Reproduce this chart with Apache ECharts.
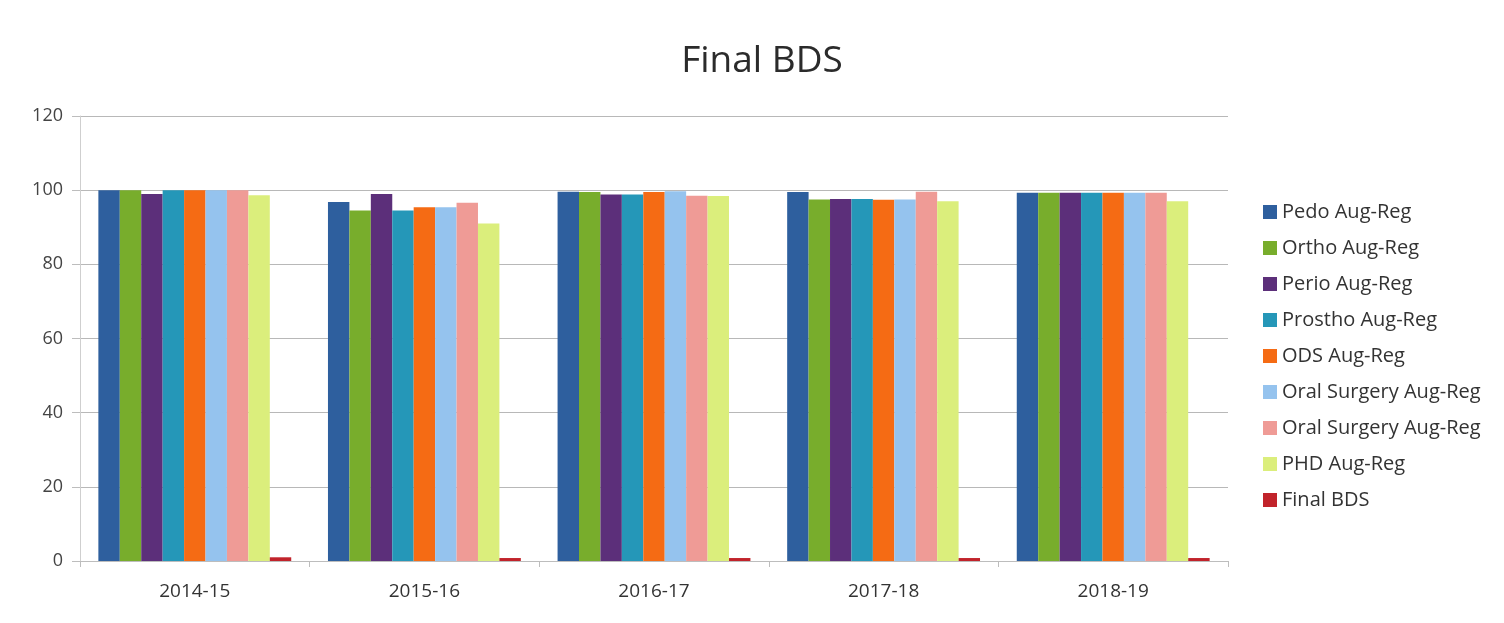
<!DOCTYPE html>
<html>
<head>
<meta charset="utf-8">
<script src="https://cdn.jsdelivr.net/npm/echarts@6/dist/echarts.min.js"></script>
<style>
    html, body { margin: 0; padding: 0; background: #fff; }
    #container { width: 1504px; height: 623px; }
</style>
</head>
<body>
<div id="container"></div>
<script>
var years = ['2014-15', '2015-16', '2016-17', '2017-18', '2018-19'];
var pedo = [100, 96.8, 99.6, 99.5, 99.3];
var ortho = [100, 94.5, 99.5, 97.5, 99.3];
var perio = [99, 99, 98.8, 97.6, 99.3];
var prostho = [100, 94.5, 98.8, 97.6, 99.3];
var ods = [100, 95.4, 99.5, 97.4, 99.3];
var oralSurgery = [100, 95.4, 99.7, 97.5, 99.3];
var oralSurgery2 = [100, 96.6, 98.5, 99.6, 99.3];
var phd = [98.6, 91, 98.4, 97, 97];
var finalBds = [1, 0.8, 0.8, 0.8, 0.8];

var seriesNames = ['Pedo Aug-Reg', 'Ortho Aug-Reg', 'Perio Aug-Reg', 'Prostho Aug-Reg', 'ODS Aug-Reg',
    'Oral Surgery Aug-Reg', 'Oral Surgery Aug-Reg ', 'PHD Aug-Reg', 'Final BDS'];
var seriesValues = [pedo, ortho, perio, prostho, ods, oralSurgery, oralSurgery2, phd, finalBds];
var colors = ['#2e5f9e', '#78ad2c', '#5c2f7a', '#2597b8', '#f56b14', '#95c3ee', '#ef9b96', '#dbee7c', '#c1232b'];

var _font = 'Open Sans';
var _series = [];
for (var i = 0; i < seriesNames.length; i++) {
    _series.push({
        name: seriesNames[i],
        type: 'bar',
        data: seriesValues[i],
        barGap: '0%',
        barCategoryGap: '16%',
        itemStyle: { color: colors[i] }
    });
};

var myChart = echarts.init(document.getElementById('container'));
myChart.setOption({
    animation: false,
    color: colors,
    title: {
        text: 'Final BDS',
        left: 757,
        textAlign: 'center',
        top: 38,
        textStyle: { fontFamily: _font, fontSize: 37, fontWeight: 'normal', color: '#2b2b2b' }
    },
    legend: {
        orient: 'vertical',
        left: 1258,
        top: 197,
        itemWidth: 14,
        itemHeight: 14,
        itemGap: 16,
        icon: 'rect',
        formatter: function(name) { return name.trim(); },
        textStyle: { fontFamily: _font, fontSize: 20, color: '#333' },
        data: seriesNames
    },
    grid: { left: 80, right: 276, top: 116, bottom: 62 },
    xAxis: {
        type: 'category',
        data: years,
        axisLine: { lineStyle: { color: '#bdbdbd' } },
        axisTick: { show: true, length: 6, lineStyle: { color: '#bdbdbd' } },
        axisLabel: { fontFamily: _font, fontSize: 19, color: '#333', margin: 21 }
    },
    yAxis: {
        type: 'value',
        min: 0,
        max: 120,
        interval: 20,
        axisLine: { show: true, lineStyle: { color: '#cfcfcf' } },
        axisTick: { show: true, length: 8, lineStyle: { color: '#bdbdbd' } },
        axisLabel: { fontFamily: _font, fontSize: 18, color: '#444', margin: 17 },
        splitLine: { lineStyle: { color: '#b8b8b8' } }
    },
    series: _series
});
</script>
</body>
</html>
